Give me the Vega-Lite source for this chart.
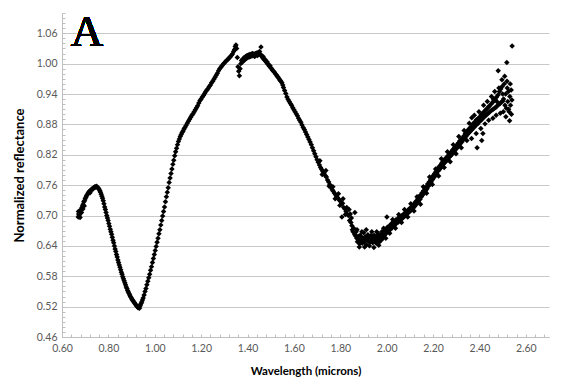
{
  "$schema": "https://vega.github.io/schema/vega-lite/v6.json",
  "width": 487,
  "height": 324,
  "autosize": {"type": "none"},
  "padding": {"left": 62, "top": 13, "right": 14, "bottom": 50},
  "background": "white",
  "config": {
    "view": {"stroke": null},
    "axis": {"labelFont": "Lato", "titleFont": "Lato", "labelColor": "#595959", "labelFontSize": 10.5, "titleColor": "#000000", "titleFontWeight": "bold", "titleFontSize": 11.5}
  },
  "data": {"values": [
{"wavelength":0.670,"reflectance":0.697},{"wavelength":0.672,"reflectance":0.703},{"wavelength":0.674,"reflectance":0.700},{"wavelength":0.676,"reflectance":0.707},{"wavelength":0.679,"reflectance":0.705},{"wavelength":0.682,"reflectance":0.712},{"wavelength":0.685,"reflectance":0.715},{"wavelength":0.688,"reflectance":0.719},{"wavelength":0.691,"reflectance":0.722},{"wavelength":0.694,"reflectance":0.727},{"wavelength":0.697,"reflectance":0.729},{"wavelength":0.700,"reflectance":0.733},{"wavelength":0.703,"reflectance":0.736},{"wavelength":0.706,"reflectance":0.739},{"wavelength":0.709,"reflectance":0.741},{"wavelength":0.712,"reflectance":0.744},{"wavelength":0.715,"reflectance":0.746},{"wavelength":0.718,"reflectance":0.748},{"wavelength":0.721,"reflectance":0.745},{"wavelength":0.724,"reflectance":0.750},{"wavelength":0.727,"reflectance":0.751},{"wavelength":0.730,"reflectance":0.753},{"wavelength":0.733,"reflectance":0.752},{"wavelength":0.736,"reflectance":0.755},{"wavelength":0.739,"reflectance":0.756},{"wavelength":0.742,"reflectance":0.757},{"wavelength":0.745,"reflectance":0.756},{"wavelength":0.748,"reflectance":0.758},{"wavelength":0.751,"reflectance":0.757},{"wavelength":0.754,"reflectance":0.755},{"wavelength":0.757,"reflectance":0.754},{"wavelength":0.760,"reflectance":0.752},{"wavelength":0.763,"reflectance":0.749},{"wavelength":0.766,"reflectance":0.746},{"wavelength":0.769,"reflectance":0.742},{"wavelength":0.772,"reflectance":0.738},{"wavelength":0.775,"reflectance":0.734},{"wavelength":0.778,"reflectance":0.729},{"wavelength":0.781,"reflectance":0.723},{"wavelength":0.784,"reflectance":0.717},
{"wavelength":0.671,"reflectance":0.708},{"wavelength":0.678,"reflectance":0.696},{"wavelength":0.684,"reflectance":0.706},{"wavelength":0.690,"reflectance":0.713},{"wavelength":0.696,"reflectance":0.719},
{"wavelength":0.787,"reflectance":0.712},{"wavelength":0.790,"reflectance":0.706},{"wavelength":0.793,"reflectance":0.700},{"wavelength":0.796,"reflectance":0.695},{"wavelength":0.799,"reflectance":0.690},{"wavelength":0.802,"reflectance":0.684},{"wavelength":0.805,"reflectance":0.679},{"wavelength":0.808,"reflectance":0.673},{"wavelength":0.811,"reflectance":0.668},{"wavelength":0.814,"reflectance":0.663},{"wavelength":0.817,"reflectance":0.657},{"wavelength":0.820,"reflectance":0.651},{"wavelength":0.823,"reflectance":0.646},{"wavelength":0.826,"reflectance":0.640},{"wavelength":0.829,"reflectance":0.634},{"wavelength":0.832,"reflectance":0.629},{"wavelength":0.835,"reflectance":0.623},{"wavelength":0.838,"reflectance":0.618},{"wavelength":0.841,"reflectance":0.612},{"wavelength":0.844,"reflectance":0.607},{"wavelength":0.847,"reflectance":0.602},{"wavelength":0.850,"reflectance":0.598},{"wavelength":0.853,"reflectance":0.593},{"wavelength":0.856,"reflectance":0.588},{"wavelength":0.859,"reflectance":0.584},{"wavelength":0.862,"reflectance":0.579},{"wavelength":0.865,"reflectance":0.575},{"wavelength":0.868,"reflectance":0.571},{"wavelength":0.871,"reflectance":0.567},{"wavelength":0.874,"reflectance":0.563},{"wavelength":0.877,"reflectance":0.559},{"wavelength":0.880,"reflectance":0.556},{"wavelength":0.883,"reflectance":0.552},{"wavelength":0.886,"reflectance":0.549},{"wavelength":0.889,"reflectance":0.546},{"wavelength":0.892,"reflectance":0.543},{"wavelength":0.895,"reflectance":0.540},{"wavelength":0.898,"reflectance":0.538},{"wavelength":0.901,"reflectance":0.535},{"wavelength":0.904,"reflectance":0.533},{"wavelength":0.907,"reflectance":0.531},{"wavelength":0.910,"reflectance":0.529},{"wavelength":0.913,"reflectance":0.527},{"wavelength":0.916,"reflectance":0.525},{"wavelength":0.919,"reflectance":0.523},{"wavelength":0.922,"reflectance":0.521},{"wavelength":0.925,"reflectance":0.520},{"wavelength":0.928,"reflectance":0.518},{"wavelength":0.931,"reflectance":0.519},{"wavelength":0.934,"reflectance":0.517},{"wavelength":0.936,"reflectance":0.521},{"wavelength":0.938,"reflectance":0.523},{"wavelength":0.941,"reflectance":0.526},{"wavelength":0.944,"reflectance":0.529},{"wavelength":0.947,"reflectance":0.533},
{"wavelength":0.950,"reflectance":0.537},{"wavelength":0.954,"reflectance":0.543},{"wavelength":0.958,"reflectance":0.550},{"wavelength":0.962,"reflectance":0.556},{"wavelength":0.966,"reflectance":0.563},{"wavelength":0.970,"reflectance":0.570},{"wavelength":0.974,"reflectance":0.577},{"wavelength":0.978,"reflectance":0.584},{"wavelength":0.982,"reflectance":0.592},{"wavelength":0.986,"reflectance":0.599},{"wavelength":0.990,"reflectance":0.607},{"wavelength":0.994,"reflectance":0.615},{"wavelength":0.998,"reflectance":0.623},{"wavelength":1.002,"reflectance":0.631},{"wavelength":1.006,"reflectance":0.639},{"wavelength":1.010,"reflectance":0.647},{"wavelength":1.014,"reflectance":0.655},{"wavelength":1.018,"reflectance":0.664},{"wavelength":1.022,"reflectance":0.672},{"wavelength":1.026,"reflectance":0.681},{"wavelength":1.030,"reflectance":0.690},{"wavelength":1.034,"reflectance":0.699},{"wavelength":1.038,"reflectance":0.708},{"wavelength":1.042,"reflectance":0.717},{"wavelength":1.046,"reflectance":0.727},{"wavelength":1.050,"reflectance":0.737},{"wavelength":1.054,"reflectance":0.746},{"wavelength":1.058,"reflectance":0.755},{"wavelength":1.062,"reflectance":0.765},{"wavelength":1.066,"reflectance":0.774},{"wavelength":1.070,"reflectance":0.783},{"wavelength":1.074,"reflectance":0.792},{"wavelength":1.078,"reflectance":0.801},{"wavelength":1.082,"reflectance":0.809},{"wavelength":1.086,"reflectance":0.818},{"wavelength":1.090,"reflectance":0.826},{"wavelength":1.094,"reflectance":0.833},{"wavelength":1.098,"reflectance":0.840},{"wavelength":1.102,"reflectance":0.846},{"wavelength":1.106,"reflectance":0.851},{"wavelength":1.110,"reflectance":0.856},{"wavelength":1.114,"reflectance":0.860},{"wavelength":1.118,"reflectance":0.864},{"wavelength":1.122,"reflectance":0.867},{"wavelength":1.126,"reflectance":0.871},{"wavelength":1.130,"reflectance":0.874},{"wavelength":1.135,"reflectance":0.878},{"wavelength":1.140,"reflectance":0.882},{"wavelength":1.145,"reflectance":0.886},{"wavelength":1.150,"reflectance":0.890},{"wavelength":1.155,"reflectance":0.894},{"wavelength":1.160,"reflectance":0.898},{"wavelength":1.165,"reflectance":0.901},{"wavelength":1.170,"reflectance":0.905},{"wavelength":1.175,"reflectance":0.909},{"wavelength":1.180,"reflectance":0.913},{"wavelength":1.185,"reflectance":0.917},{"wavelength":1.190,"reflectance":0.922},{"wavelength":1.195,"reflectance":0.927},{"wavelength":1.200,"reflectance":0.930},{"wavelength":1.205,"reflectance":0.934},{"wavelength":1.210,"reflectance":0.937},{"wavelength":1.215,"reflectance":0.941},{"wavelength":1.220,"reflectance":0.945},{"wavelength":1.225,"reflectance":0.948},{"wavelength":1.230,"reflectance":0.951},{"wavelength":1.235,"reflectance":0.955},{"wavelength":1.240,"reflectance":0.958},{"wavelength":1.245,"reflectance":0.962},{"wavelength":1.250,"reflectance":0.965},{"wavelength":1.255,"reflectance":0.969},{"wavelength":1.260,"reflectance":0.973},{"wavelength":1.265,"reflectance":0.977},{"wavelength":1.270,"reflectance":0.981},{"wavelength":1.275,"reflectance":0.986},{"wavelength":1.280,"reflectance":0.990},{"wavelength":1.285,"reflectance":0.993},{"wavelength":1.290,"reflectance":0.996},{"wavelength":1.295,"reflectance":0.999},{"wavelength":1.300,"reflectance":1.001},{"wavelength":1.305,"reflectance":1.004},{"wavelength":1.310,"reflectance":1.006},{"wavelength":1.315,"reflectance":1.008},{"wavelength":1.320,"reflectance":1.011},{"wavelength":1.325,"reflectance":1.013},{"wavelength":1.330,"reflectance":1.016},{"wavelength":1.335,"reflectance":1.019},{"wavelength":1.340,"reflectance":1.024},{"wavelength":1.344,"reflectance":1.028},{"wavelength":1.347,"reflectance":1.034},{"wavelength":1.350,"reflectance":1.037},{"wavelength":1.353,"reflectance":1.030},
{"wavelength":1.356,"reflectance":1.012},{"wavelength":1.359,"reflectance":0.994},{"wavelength":1.362,"reflectance":0.985},{"wavelength":1.365,"reflectance":0.976},{"wavelength":1.368,"reflectance":0.990},{"wavelength":1.371,"reflectance":1.000},{"wavelength":1.374,"reflectance":1.006},{"wavelength":1.377,"reflectance":1.003},{"wavelength":1.380,"reflectance":1.009},{"wavelength":1.383,"reflectance":1.005},{"wavelength":1.386,"reflectance":1.012},{"wavelength":1.389,"reflectance":1.008},{"wavelength":1.392,"reflectance":1.014},{"wavelength":1.395,"reflectance":1.010},{"wavelength":1.398,"reflectance":1.016},{"wavelength":1.401,"reflectance":1.012},{"wavelength":1.404,"reflectance":1.017},{"wavelength":1.407,"reflectance":1.013},{"wavelength":1.410,"reflectance":1.018},{"wavelength":1.413,"reflectance":1.014},{"wavelength":1.416,"reflectance":1.019},{"wavelength":1.419,"reflectance":1.015},{"wavelength":1.422,"reflectance":1.020},{"wavelength":1.425,"reflectance":1.016},{"wavelength":1.428,"reflectance":1.019},{"wavelength":1.431,"reflectance":1.014},{"wavelength":1.434,"reflectance":1.020},{"wavelength":1.437,"reflectance":1.017},{"wavelength":1.440,"reflectance":1.021},{"wavelength":1.443,"reflectance":1.016},{"wavelength":1.446,"reflectance":1.022},{"wavelength":1.449,"reflectance":1.018},{"wavelength":1.452,"reflectance":1.024},{"wavelength":1.455,"reflectance":1.019},{"wavelength":1.458,"reflectance":1.033},{"wavelength":1.461,"reflectance":1.015},{"wavelength":1.464,"reflectance":1.012},{"wavelength":1.467,"reflectance":1.014},{"wavelength":1.470,"reflectance":1.009},{"wavelength":1.473,"reflectance":1.007},{"wavelength":1.476,"reflectance":1.008},{"wavelength":1.479,"reflectance":1.004},{"wavelength":1.482,"reflectance":1.002},{"wavelength":1.485,"reflectance":1.003},{"wavelength":1.488,"reflectance":0.999},{"wavelength":1.491,"reflectance":0.998},{"wavelength":1.494,"reflectance":0.995},{"wavelength":1.497,"reflectance":0.996},{"wavelength":1.500,"reflectance":0.992},{"wavelength":1.504,"reflectance":0.990},{"wavelength":1.508,"reflectance":0.987},{"wavelength":1.512,"reflectance":0.985},{"wavelength":1.516,"reflectance":0.983},{"wavelength":1.520,"reflectance":0.980},{"wavelength":1.524,"reflectance":0.978},{"wavelength":1.528,"reflectance":0.975},{"wavelength":1.532,"reflectance":0.973},{"wavelength":1.536,"reflectance":0.970},{"wavelength":1.540,"reflectance":0.967},{"wavelength":1.544,"reflectance":0.965},{"wavelength":1.548,"reflectance":0.962},{"wavelength":1.552,"reflectance":0.958},
{"wavelength":1.555,"reflectance":0.953},{"wavelength":1.560,"reflectance":0.947},{"wavelength":1.565,"reflectance":0.941},{"wavelength":1.570,"reflectance":0.934},{"wavelength":1.575,"reflectance":0.929},{"wavelength":1.580,"reflectance":0.925},{"wavelength":1.585,"reflectance":0.921},{"wavelength":1.590,"reflectance":0.918},{"wavelength":1.595,"reflectance":0.913},{"wavelength":1.600,"reflectance":0.909},{"wavelength":1.605,"reflectance":0.905},{"wavelength":1.610,"reflectance":0.901},{"wavelength":1.615,"reflectance":0.897},{"wavelength":1.620,"reflectance":0.892},{"wavelength":1.625,"reflectance":0.888},{"wavelength":1.630,"reflectance":0.884},{"wavelength":1.635,"reflectance":0.879},{"wavelength":1.640,"reflectance":0.874},{"wavelength":1.645,"reflectance":0.870},{"wavelength":1.650,"reflectance":0.865},{"wavelength":1.655,"reflectance":0.860},{"wavelength":1.660,"reflectance":0.855},{"wavelength":1.665,"reflectance":0.850},{"wavelength":1.670,"reflectance":0.845},{"wavelength":1.675,"reflectance":0.840},{"wavelength":1.680,"reflectance":0.834},{"wavelength":1.685,"reflectance":0.828},{"wavelength":1.690,"reflectance":0.822},{"wavelength":1.695,"reflectance":0.816},{"wavelength":1.700,"reflectance":0.810},{"wavelength":1.705,"reflectance":0.805},{"wavelength":1.710,"reflectance":0.800},{"wavelength":1.715,"reflectance":0.795},{"wavelength":1.720,"reflectance":0.791},{"wavelength":1.725,"reflectance":0.787},{"wavelength":1.730,"reflectance":0.784},{"wavelength":1.735,"reflectance":0.779},{"wavelength":1.740,"reflectance":0.776},{"wavelength":1.745,"reflectance":0.770},{"wavelength":1.750,"reflectance":0.766},{"wavelength":1.755,"reflectance":0.761},{"wavelength":1.760,"reflectance":0.756},{"wavelength":1.765,"reflectance":0.751},{"wavelength":1.770,"reflectance":0.748},{"wavelength":1.775,"reflectance":0.744},{"wavelength":1.780,"reflectance":0.741},{"wavelength":1.785,"reflectance":0.737},{"wavelength":1.790,"reflectance":0.734},{"wavelength":1.795,"reflectance":0.731},{"wavelength":1.800,"reflectance":0.728},{"wavelength":1.805,"reflectance":0.722},{"wavelength":1.807,"reflectance":0.697},{"wavelength":1.810,"reflectance":0.724},{"wavelength":1.815,"reflectance":0.716},{"wavelength":1.820,"reflectance":0.713},{"wavelength":1.825,"reflectance":0.708},{"wavelength":1.830,"reflectance":0.703},{"wavelength":1.835,"reflectance":0.700},{"wavelength":1.840,"reflectance":0.690},{"wavelength":1.843,"reflectance":0.703},{"wavelength":1.846,"reflectance":0.686},{"wavelength":1.850,"reflectance":0.680},{"wavelength":1.855,"reflectance":0.668},{"wavelength":1.858,"reflectance":0.675},{"wavelength":1.862,"reflectance":0.663},{"wavelength":1.863,"reflectance":0.706},{"wavelength":1.865,"reflectance":0.660},{"wavelength":1.868,"reflectance":0.668},{"wavelength":1.871,"reflectance":0.655},{"wavelength":1.874,"reflectance":0.648},{"wavelength":1.877,"reflectance":0.659},{"wavelength":1.880,"reflectance":0.652},{"wavelength":1.883,"reflectance":0.644},{"wavelength":1.886,"reflectance":0.661},{"wavelength":1.889,"reflectance":0.650},{"wavelength":1.892,"reflectance":0.657},{"wavelength":1.895,"reflectance":0.645},{"wavelength":1.898,"reflectance":0.653},{"wavelength":1.901,"reflectance":0.666},{"wavelength":1.904,"reflectance":0.648},{"wavelength":1.907,"reflectance":0.658},{"wavelength":1.910,"reflectance":0.651},{"wavelength":1.913,"reflectance":0.642},{"wavelength":1.916,"reflectance":0.656},{"wavelength":1.919,"reflectance":0.662},{"wavelength":1.922,"reflectance":0.649},{"wavelength":1.925,"reflectance":0.655},{"wavelength":1.928,"reflectance":0.647},{"wavelength":1.931,"reflectance":0.660},{"wavelength":1.934,"reflectance":0.652},{"wavelength":1.937,"reflectance":0.658},{"wavelength":1.940,"reflectance":0.646},{"wavelength":1.943,"reflectance":0.654},{"wavelength":1.946,"reflectance":0.661},{"wavelength":1.949,"reflectance":0.650},{"wavelength":1.952,"reflectance":0.656},{"wavelength":1.955,"reflectance":0.645},{"wavelength":1.958,"reflectance":0.659},{"wavelength":1.961,"reflectance":0.651},{"wavelength":1.964,"reflectance":0.664},{"wavelength":1.967,"reflectance":0.655},{"wavelength":1.970,"reflectance":0.648},{"wavelength":1.973,"reflectance":0.661},{"wavelength":1.976,"reflectance":0.657},{"wavelength":1.979,"reflectance":0.668},{"wavelength":1.982,"reflectance":0.660},{"wavelength":1.985,"reflectance":0.656},{"wavelength":1.988,"reflectance":0.666},{"wavelength":1.991,"reflectance":0.662},{"wavelength":1.994,"reflectance":0.671},{"wavelength":1.997,"reflectance":0.664},{"wavelength":2.000,"reflectance":0.668},{"wavelength":2.001,"reflectance":0.697},{"wavelength":2.003,"reflectance":0.677},{"wavelength":2.006,"reflectance":0.670},{"wavelength":2.009,"reflectance":0.674},{"wavelength":2.012,"reflectance":0.680},{"wavelength":2.015,"reflectance":0.672},{"wavelength":2.018,"reflectance":0.678},{"wavelength":2.021,"reflectance":0.684},{"wavelength":2.024,"reflectance":0.676},{"wavelength":2.027,"reflectance":0.682},{"wavelength":2.030,"reflectance":0.688},{"wavelength":2.033,"reflectance":0.680},{"wavelength":2.036,"reflectance":0.686},{"wavelength":2.039,"reflectance":0.691},{"wavelength":2.042,"reflectance":0.684},{"wavelength":2.045,"reflectance":0.689},{"wavelength":2.048,"reflectance":0.694},{"wavelength":2.051,"reflectance":0.687},{"wavelength":2.054,"reflectance":0.692},{"wavelength":2.057,"reflectance":0.697},{"wavelength":2.060,"reflectance":0.691},{"wavelength":2.063,"reflectance":0.699},{"wavelength":2.066,"reflectance":0.694},{"wavelength":2.069,"reflectance":0.701},{"wavelength":2.072,"reflectance":0.696},{"wavelength":2.075,"reflectance":0.703},{"wavelength":2.078,"reflectance":0.699},{"wavelength":2.081,"reflectance":0.706},{"wavelength":2.084,"reflectance":0.701},{"wavelength":2.087,"reflectance":0.708},{"wavelength":2.090,"reflectance":0.704},{"wavelength":2.093,"reflectance":0.711},{"wavelength":2.096,"reflectance":0.707},{"wavelength":2.099,"reflectance":0.714},{"wavelength":2.102,"reflectance":0.709},{"wavelength":2.105,"reflectance":0.716},{"wavelength":2.108,"reflectance":0.712},{"wavelength":2.111,"reflectance":0.719},{"wavelength":2.114,"reflectance":0.715},{"wavelength":2.117,"reflectance":0.722},{"wavelength":2.120,"reflectance":0.718},{"wavelength":2.123,"reflectance":0.726},{"wavelength":2.126,"reflectance":0.721},{"wavelength":2.129,"reflectance":0.729},{"wavelength":2.132,"reflectance":0.725},{"wavelength":2.135,"reflectance":0.733},{"wavelength":2.138,"reflectance":0.729},{"wavelength":2.141,"reflectance":0.737},{"wavelength":2.144,"reflectance":0.732},{"wavelength":2.147,"reflectance":0.741},{"wavelength":2.150,"reflectance":0.737},{"wavelength":2.153,"reflectance":0.745},{"wavelength":2.156,"reflectance":0.741},{"wavelength":2.159,"reflectance":0.749},{"wavelength":2.162,"reflectance":0.745},{"wavelength":2.165,"reflectance":0.753},{"wavelength":2.168,"reflectance":0.749},{"wavelength":2.171,"reflectance":0.757},{"wavelength":2.174,"reflectance":0.753},{"wavelength":2.177,"reflectance":0.762},{"wavelength":2.180,"reflectance":0.758},{"wavelength":2.183,"reflectance":0.766},{"wavelength":2.186,"reflectance":0.762},{"wavelength":2.189,"reflectance":0.770},{"wavelength":2.192,"reflectance":0.766},{"wavelength":2.195,"reflectance":0.775},{"wavelength":2.198,"reflectance":0.771},{"wavelength":2.201,"reflectance":0.779},{"wavelength":2.204,"reflectance":0.775},{"wavelength":2.207,"reflectance":0.783},{"wavelength":2.210,"reflectance":0.779},{"wavelength":2.213,"reflectance":0.787},{"wavelength":2.216,"reflectance":0.783},{"wavelength":2.219,"reflectance":0.792},{"wavelength":2.222,"reflectance":0.788},{"wavelength":2.225,"reflectance":0.796},{"wavelength":2.228,"reflectance":0.791},{"wavelength":2.231,"reflectance":0.799},{"wavelength":2.234,"reflectance":0.795},{"wavelength":2.237,"reflectance":0.803},{"wavelength":2.240,"reflectance":0.798},{"wavelength":2.243,"reflectance":0.806},{"wavelength":2.246,"reflectance":0.802},{"wavelength":2.249,"reflectance":0.810},{"wavelength":2.252,"reflectance":0.805},{"wavelength":2.255,"reflectance":0.813},{"wavelength":2.258,"reflectance":0.808},{"wavelength":2.261,"reflectance":0.816},{"wavelength":2.264,"reflectance":0.811},{"wavelength":2.267,"reflectance":0.819},{"wavelength":2.270,"reflectance":0.815},{"wavelength":2.273,"reflectance":0.823},{"wavelength":2.276,"reflectance":0.818},{"wavelength":2.279,"reflectance":0.826},{"wavelength":2.282,"reflectance":0.821},{"wavelength":2.285,"reflectance":0.830},{"wavelength":2.288,"reflectance":0.825},{"wavelength":2.291,"reflectance":0.833},{"wavelength":2.294,"reflectance":0.828},{"wavelength":2.297,"reflectance":0.836},{"wavelength":2.300,"reflectance":0.832},{"wavelength":2.303,"reflectance":0.840},{"wavelength":2.306,"reflectance":0.835},{"wavelength":2.309,"reflectance":0.843},{"wavelength":2.312,"reflectance":0.838},{"wavelength":2.315,"reflectance":0.847},{"wavelength":2.318,"reflectance":0.842},{"wavelength":2.321,"reflectance":0.850},{"wavelength":2.324,"reflectance":0.845},{"wavelength":2.327,"reflectance":0.853},{"wavelength":2.330,"reflectance":0.849},{"wavelength":2.333,"reflectance":0.857},{"wavelength":2.336,"reflectance":0.852},{"wavelength":2.339,"reflectance":0.862},{"wavelength":2.342,"reflectance":0.856},{"wavelength":2.345,"reflectance":0.866},{"wavelength":2.348,"reflectance":0.860},{"wavelength":2.351,"reflectance":0.869},{"wavelength":2.354,"reflectance":0.863},{"wavelength":2.357,"reflectance":0.872},{"wavelength":2.360,"reflectance":0.866},{"wavelength":2.363,"reflectance":0.875},{"wavelength":2.366,"reflectance":0.869},{"wavelength":2.367,"reflectance":0.893},{"wavelength":2.369,"reflectance":0.879},{"wavelength":2.372,"reflectance":0.872},{"wavelength":2.375,"reflectance":0.882},{"wavelength":2.378,"reflectance":0.875},{"wavelength":2.381,"reflectance":0.885},{"wavelength":2.384,"reflectance":0.878},{"wavelength":2.387,"reflectance":0.889},{"wavelength":2.390,"reflectance":0.834},{"wavelength":2.393,"reflectance":0.881},{"wavelength":2.396,"reflectance":0.892},{"wavelength":2.399,"reflectance":0.885},{"wavelength":2.402,"reflectance":0.895},{"wavelength":2.405,"reflectance":0.887},{"wavelength":2.408,"reflectance":0.899},{"wavelength":2.410,"reflectance":0.848},{"wavelength":2.411,"reflectance":0.890},{"wavelength":2.414,"reflectance":0.902},{"wavelength":2.415,"reflectance":0.862},{"wavelength":2.417,"reflectance":0.893},{"wavelength":2.420,"reflectance":0.905},{"wavelength":2.423,"reflectance":0.896},{"wavelength":2.426,"reflectance":0.908},{"wavelength":2.429,"reflectance":0.898},{"wavelength":2.432,"reflectance":0.911},{"wavelength":2.435,"reflectance":0.901},{"wavelength":2.438,"reflectance":0.914},{"wavelength":2.441,"reflectance":0.903},{"wavelength":2.444,"reflectance":0.917},{"wavelength":2.447,"reflectance":0.906},{"wavelength":2.450,"reflectance":0.920},{"wavelength":2.453,"reflectance":0.908},{"wavelength":2.456,"reflectance":0.923},{"wavelength":2.459,"reflectance":0.910},{"wavelength":2.462,"reflectance":0.926},{"wavelength":2.465,"reflectance":0.912},{"wavelength":2.468,"reflectance":0.930},{"wavelength":2.471,"reflectance":0.914},{"wavelength":2.474,"reflectance":0.934},{"wavelength":2.477,"reflectance":0.917},{"wavelength":2.480,"reflectance":0.938},{"wavelength":2.481,"reflectance":0.986},{"wavelength":2.483,"reflectance":0.919},{"wavelength":2.486,"reflectance":0.945},{"wavelength":2.489,"reflectance":0.921},{"wavelength":2.492,"reflectance":0.950},{"wavelength":2.495,"reflectance":0.924},{"wavelength":2.498,"reflectance":0.955},{"wavelength":2.501,"reflectance":0.926},{"wavelength":2.504,"reflectance":0.930},{"wavelength":2.507,"reflectance":0.960},{"wavelength":2.510,"reflectance":0.918},{"wavelength":2.513,"reflectance":0.940},{"wavelength":2.516,"reflectance":0.912},{"wavelength":2.518,"reflectance":1.002},{"wavelength":2.519,"reflectance":0.965},{"wavelength":2.522,"reflectance":0.925},{"wavelength":2.525,"reflectance":0.945},{"wavelength":2.528,"reflectance":0.905},{"wavelength":2.530,"reflectance":0.887},{"wavelength":2.531,"reflectance":0.935},{"wavelength":2.534,"reflectance":0.918},{"wavelength":2.537,"reflectance":0.948},{"wavelength":2.540,"reflectance":0.928},{"wavelength":2.541,"reflectance":1.035},
{"wavelength":1.712,"reflectance":0.808},{"wavelength":1.722,"reflectance":0.781},{"wavelength":1.738,"reflectance":0.789},{"wavelength":1.752,"reflectance":0.758},{"wavelength":1.768,"reflectance":0.757},{"wavelength":1.778,"reflectance":0.733},{"wavelength":1.792,"reflectance":0.743},{"wavelength":1.798,"reflectance":0.720},{"wavelength":1.812,"reflectance":0.733},{"wavelength":1.822,"reflectance":0.702},{"wavelength":1.828,"reflectance":0.716},{"wavelength":1.838,"reflectance":0.712},{"wavelength":1.848,"reflectance":0.695},{"wavelength":1.852,"reflectance":0.672},
{"wavelength":1.872,"reflectance":0.672},{"wavelength":1.882,"reflectance":0.638},{"wavelength":1.893,"reflectance":0.668},{"wavelength":1.905,"reflectance":0.638},{"wavelength":1.912,"reflectance":0.672},{"wavelength":1.926,"reflectance":0.640},{"wavelength":1.936,"reflectance":0.668},{"wavelength":1.945,"reflectance":0.637},{"wavelength":1.957,"reflectance":0.668},{"wavelength":1.966,"reflectance":0.641},{"wavelength":1.978,"reflectance":0.652},{"wavelength":1.987,"reflectance":0.675},{"wavelength":1.996,"reflectance":0.655},
{"wavelength":2.013,"reflectance":0.665},{"wavelength":2.026,"reflectance":0.692},{"wavelength":2.038,"reflectance":0.675},{"wavelength":2.052,"reflectance":0.702},{"wavelength":2.064,"reflectance":0.686},{"wavelength":2.077,"reflectance":0.712},{"wavelength":2.091,"reflectance":0.697},{"wavelength":2.104,"reflectance":0.723},{"wavelength":2.118,"reflectance":0.709},{"wavelength":2.131,"reflectance":0.737},{"wavelength":2.146,"reflectance":0.722},{"wavelength":2.158,"reflectance":0.757},{"wavelength":2.172,"reflectance":0.744},{"wavelength":2.185,"reflectance":0.776},{"wavelength":2.197,"reflectance":0.761},
{"wavelength":2.211,"reflectance":0.792},{"wavelength":2.224,"reflectance":0.778},{"wavelength":2.236,"reflectance":0.812},{"wavelength":2.248,"reflectance":0.795},{"wavelength":2.262,"reflectance":0.826},{"wavelength":2.274,"reflectance":0.806},{"wavelength":2.287,"reflectance":0.840},{"wavelength":2.299,"reflectance":0.822},{"wavelength":2.311,"reflectance":0.856},{"wavelength":2.322,"reflectance":0.834},{"wavelength":2.334,"reflectance":0.868},{"wavelength":2.346,"reflectance":0.848},{"wavelength":2.356,"reflectance":0.882},{"wavelength":2.366,"reflectance":0.852},{"wavelength":2.378,"reflectance":0.898},{"wavelength":2.386,"reflectance":0.862},{"wavelength":2.398,"reflectance":0.905},{"wavelength":2.406,"reflectance":0.872},{"wavelength":2.418,"reflectance":0.918},{"wavelength":2.424,"reflectance":0.881},{"wavelength":2.434,"reflectance":0.925},{"wavelength":2.440,"reflectance":0.888},{"wavelength":2.452,"reflectance":0.935},{"wavelength":2.458,"reflectance":0.892},{"wavelength":2.466,"reflectance":0.945},{"wavelength":2.472,"reflectance":0.898},{"wavelength":2.484,"reflectance":0.952},{"wavelength":2.490,"reflectance":0.902},{"wavelength":2.497,"reflectance":0.968},{"wavelength":2.503,"reflectance":0.905},{"wavelength":2.509,"reflectance":0.975},{"wavelength":2.514,"reflectance":0.895},{"wavelength":2.520,"reflectance":0.952},{"wavelength":2.526,"reflectance":0.910},{"wavelength":2.533,"reflectance":0.960},{"wavelength":2.538,"reflectance":0.900},{"wavelength":2.500,"reflectance":0.940},{"wavelength":2.460,"reflectance":0.930},{"wavelength":2.475,"reflectance":0.925}
  ]},
  "layer": [
    {
      "mark": {"type": "point", "shape": "diamond", "filled": true, "color": "#000000", "size": 30, "opacity": 1},
      "encoding": {
        "x": {"field": "wavelength", "type": "quantitative",
          "scale": {"domain": [0.6, 2.7], "nice": false, "zero": false},
          "axis": {
            "title": "Wavelength (microns)",
            "values": [0.6,0.64,0.68,0.72,0.76,0.8,0.84,0.88,0.92,0.96,1.0,1.04,1.08,1.12,1.16,1.2,1.24,1.28,1.32,1.36,1.4,1.44,1.48,1.52,1.56,1.6,1.64,1.68,1.72,1.76,1.8,1.84,1.88,1.92,1.96,2.0,2.04,2.08,2.12,2.16,2.2,2.24,2.28,2.32,2.36,2.4,2.44,2.48,2.52,2.56,2.6,2.64,2.68],
            "tickCount": 500,
            "labelExpr": "abs(datum.value*5 - round(datum.value*5)) < 0.000001 ? format(datum.value, '.2f') : ''",
            "labelOverlap": false, "labelFlush": false, "labelBound": false,
            "grid": false, "domainColor": "#bfbfbf", "tickColor": "#bfbfbf", "tickSize": -3,
            "labelPadding": 9, "titlePadding": 12
          }
        },
        "y": {"field": "reflectance", "type": "quantitative",
          "scale": {"domain": [0.46, 1.1], "nice": false, "zero": false},
          "axis": {
            "title": "Normalized reflectance",
            "titleFontSize": 13,
            "values": [0.46,0.47,0.48,0.49,0.5,0.51,0.52,0.53,0.54,0.55,0.56,0.57,0.58,0.59,0.6,0.61,0.62,0.63,0.64,0.65,0.66,0.67,0.68,0.69,0.7,0.71,0.72,0.73,0.74,0.75,0.76,0.77,0.78,0.79,0.8,0.81,0.82,0.83,0.84,0.85,0.86,0.87,0.88,0.89,0.9,0.91,0.92,0.93,0.94,0.95,0.96,0.97,0.98,0.99,1.0,1.01,1.02,1.03,1.04,1.05,1.06,1.07,1.08,1.09,1.1],
            "tickCount": 500,
            "labelExpr": "abs((datum.value-0.46)/0.06 - round((datum.value-0.46)/0.06)) < 0.000001 ? format(datum.value, '.2f') : ''",
            "labelOverlap": false, "labelBound": false, "labelFlush": false,
            "grid": true, "gridColor": "#c8c8c8",
            "gridOpacity": {"condition": {"test": "abs((datum.value-0.46)/0.06 - round((datum.value-0.46)/0.06)) < 0.000001", "value": 1}, "value": 0},
            "domainColor": "#bfbfbf", "tickColor": "#bfbfbf", "tickSize": -3,
            "labelPadding": 8, "titlePadding": 10
          }
        }
      }
    },
    {
      "mark": {"type": "text", "font": "Liberation Serif", "fontSize": 45, "align": "center", "baseline": "alphabetic", "color": "#000000"},
      "encoding": {"x": {"datum": 0.708}, "y": {"datum": 1.035}, "text": {"value": "A"}}
    }
  ]
}
